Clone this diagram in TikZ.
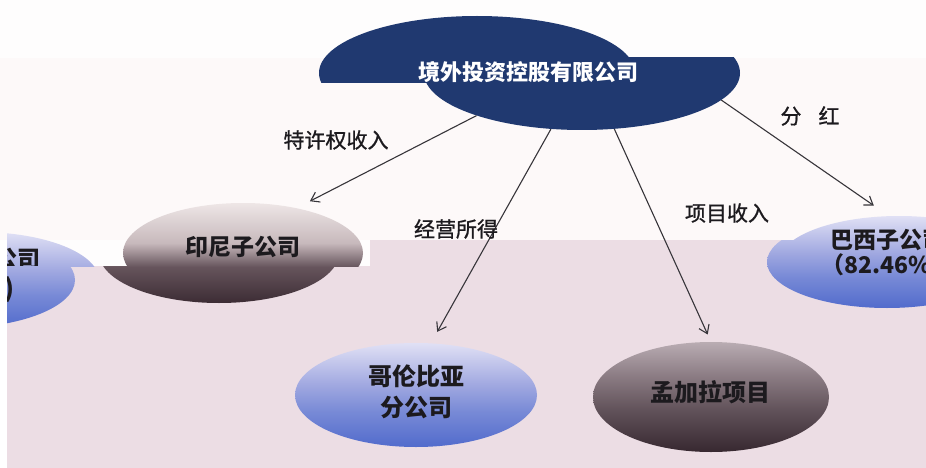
\documentclass[tikz,border=0pt]{standalone}
\usepackage{fontspec}
\newfontfamily\cjk{Noto Sans CJK SC}
\newfontfamily\cjkmed[FakeBold=1]{Noto Sans CJK SC}
\usetikzlibrary{arrows.meta,shapes.geometric}
\definecolor{navy}{RGB}{32,57,112}
\definecolor{bgtop}{RGB}{254,253,253}
\definecolor{bgmid}{RGB}{253,249,249}
\definecolor{bglow}{RGB}{236,221,228}
\definecolor{inkc}{RGB}{28,26,30}
\definecolor{arrc}{RGB}{55,53,58}
\pgfdeclareverticalshading{indoshade}{100bp}{rgb(0bp)=(0.235,0.172,0.204); rgb(25bp)=(0.235,0.172,0.204); rgb(43bp)=(0.40,0.33,0.36); rgb(55bp)=(0.78,0.725,0.737); rgb(75bp)=(0.933,0.902,0.902); rgb(100bp)=(0.933,0.902,0.902)}
\pgfdeclareverticalshading{blueshade}{100bp}{rgb(0bp)=(0.32,0.42,0.80); rgb(25bp)=(0.32,0.42,0.80); rgb(42bp)=(0.47,0.54,0.84); rgb(55bp)=(0.63,0.66,0.88); rgb(75bp)=(0.88,0.88,0.96); rgb(100bp)=(0.88,0.88,0.96)}
\pgfdeclareverticalshading{darkshade}{100bp}{rgb(0bp)=(0.216,0.157,0.188); rgb(25bp)=(0.216,0.157,0.188); rgb(45bp)=(0.39,0.33,0.36); rgb(60bp)=(0.55,0.49,0.52); rgb(75bp)=(0.725,0.675,0.70); rgb(100bp)=(0.725,0.675,0.70)}
\begin{document}
\begin{tikzpicture}[x=1pt,y=-1pt,
  ell/.style={ellipse, inner sep=0pt, draw=none},
  lbl/.style={font=\cjkmed\fontsize{21}{25}\selectfont, text=inkc, inner sep=0pt},
  ntext/.style={font=\cjk\bfseries\fontsize{23}{29}\selectfont, text=inkc, align=center, inner sep=0pt},
  arr/.style={draw=arrc, line width=1.1pt, -{Straight Barb[length=8pt,width=11pt]}},
]
\useasboundingbox (0,0) rectangle (926,468);
\clip (0,0) rectangle (926,468);
% background bands
\fill[bgtop] (0,0) rectangle (926,468);
\fill[bgmid] (0,58) rectangle (926,240);
\fill[bglow] (7,266) -- (370,266) -- (370,240) -- (926,240) -- (926,468) -- (7,468) -- cycle;

% top ellipse (two pieces)
\begin{scope}
  \clip (0,58) rectangle (926,240);
  \node[ell, fill=navy, minimum width=316pt, minimum height=114pt] (hq) at (582,73) {};
\end{scope}
\begin{scope}
  \clip (0,0) rectangle (926,83);
  \fill[navy] (477,73) ellipse [x radius=158, y radius=57];
\end{scope}
\node[anchor=west, font=\cjk\bfseries\fontsize{22}{26}\selectfont, text=white, inner sep=0pt] (hqt) at (418,72) {境外投资控股有限公司};

% Indonesia
\begin{scope}
  \clip (0,0) rectangle (370,266);
  \node[ell, shade, shading=indoshade, minimum width=240pt, minimum height=100pt] (yn) at (243,253) {};
  \node[ntext] (ynt) at (243,247) {印尼子公司};
\end{scope}
\begin{scope}
  \clip (0,266) rectangle (370,468);
  \shade[shading=indoshade] (219,253) ellipse [x radius=120, y radius=50];
\end{scope}

% left node (cut off)
\begin{scope}
  \clip (7,0) rectangle (370,266);
  \node[ell, shade, shading=blueshade, minimum width=240pt, minimum height=96pt] (ln) at (-21,280) {};
  \node[ntext, anchor=east] (lnt) at (41,259) {公司};
\end{scope}
\begin{scope}
  \clip (7,266) rectangle (370,468);
  \shade[shading=blueshade] (-45,280) ellipse [x radius=120, y radius=48];
  \node[ntext, anchor=east, font=\cjk\bfseries\fontsize{25}{29}\selectfont] (lnp) at (15,290) {)};
\end{scope}

% Brazil
\begin{scope}
  \clip (370,0) rectangle (926,240);
  \shade[shading=blueshade] (899,262) ellipse [x radius=120, y radius=46];
\end{scope}
\begin{scope}
  \clip (370,240) rectangle (926,468);
  \node[ell, shade, shading=blueshade, minimum width=240pt, minimum height=92pt] (br) at (887,262) {};
\end{scope}
\node[ntext, font=\cjk\bfseries\fontsize{23}{25}\selectfont] (brt) at (888,252) {巴西子公司\\（82.46\%）};

% Colombia
\node[ell, shade, shading=blueshade, minimum width=242pt, minimum height=104pt] (col) at (416,395) {};
\node[ntext, font=\cjk\bfseries\fontsize{24}{31}\selectfont] (colt) at (416,392) {哥伦比亚\\分公司};

% Bangladesh
\node[ell, shade, shading=darkshade, minimum width=236pt, minimum height=110pt] (bd) at (711,397) {};
\node[ntext, font=\cjk\bfseries\fontsize{24}{30}\selectfont] (bdt) at (710,392) {孟加拉项目};

% white strip at left
\fill[white] (0,240) rectangle (7,468);

% connectors
\draw[arr, shorten >=15pt] (hq.202) -- (yn.40);
\draw[arr, shorten >=13pt] (hq.241) -- (col.74);
\draw[arr, shorten >=8pt] (hq.300) -- (bd.90);
\draw[arr, shorten >=18pt] (hq.349) -- (br.88);

% labels
\node[lbl] (l1) at (336,140) {特许权收入};
\node[lbl] (l2) at (456,229) {经营所得};
\node[lbl] (l3) at (727,213) {项目收入};
\node[lbl] (l4) at (810,116) {\spaceskip=17pt\relax 分 红};
\end{tikzpicture}
\end{document}
